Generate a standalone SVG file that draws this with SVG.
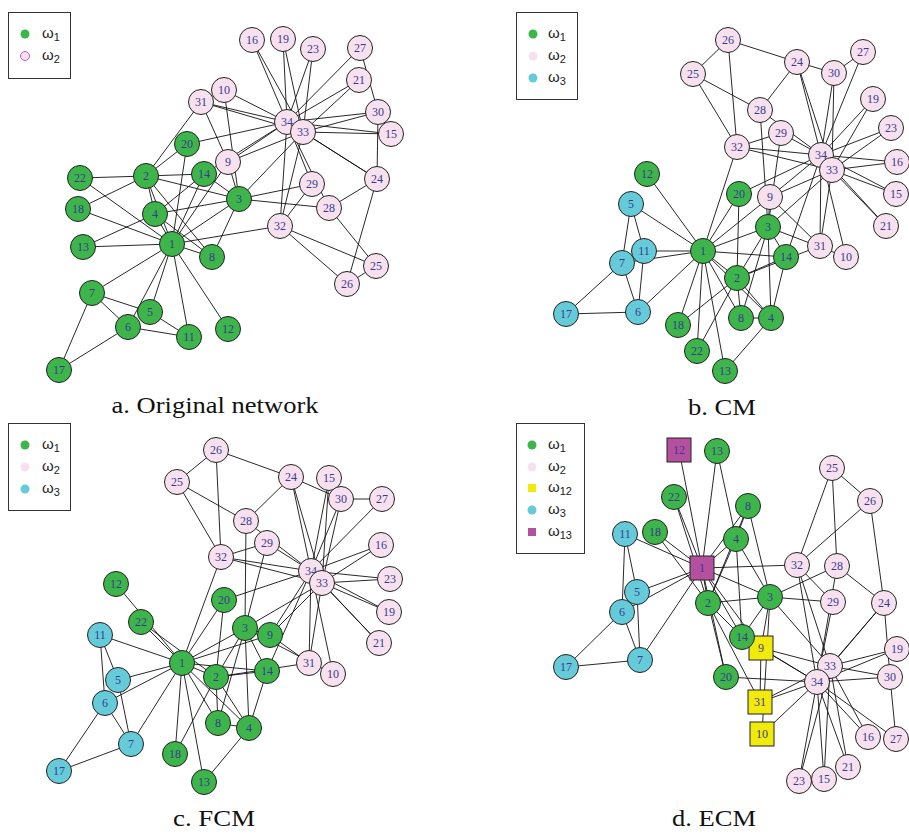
<svg xmlns="http://www.w3.org/2000/svg" width="909" height="834" viewBox="0 0 909 834">
<style>
.e line{stroke:#111;stroke-width:0.9}
circle.nd,rect.nd{stroke:#222;stroke-width:1}
.g{fill:#3db54a}.p{fill:#f7e1ee}.c{fill:#66cbd9}.y{fill:#f2ea0c}.m{fill:#b5509f}
.t{font-family:"Liberation Serif","Times New Roman",serif;font-size:12px;fill:#3a3a8f;text-anchor:middle}
.lg{font-family:"Liberation Sans",Arial,sans-serif;font-size:15px;fill:#222}
.lb{fill:#fff;stroke:#333;stroke-width:1}
.cap{font-family:"Liberation Serif","Times New Roman",serif;font-size:23px;fill:#111;text-anchor:middle}
</style>
<rect width="909" height="834" fill="#fff"/>

<!-- Panel a -->
<g id="a-edges" class="e">
<line x1="172" y1="244" x2="146" y2="176"/><line x1="172" y1="244" x2="239" y2="199"/><line x1="172" y1="244" x2="155" y2="214"/><line x1="172" y1="244" x2="150" y2="312"/><line x1="172" y1="244" x2="128" y2="327"/><line x1="172" y1="244" x2="92" y2="293"/><line x1="172" y1="244" x2="212" y2="257"/><line x1="172" y1="244" x2="228" y2="162"/><line x1="172" y1="244" x2="189" y2="337"/><line x1="172" y1="244" x2="228" y2="329"/><line x1="172" y1="244" x2="83" y2="247"/><line x1="172" y1="244" x2="204" y2="174"/><line x1="172" y1="244" x2="78" y2="209"/><line x1="172" y1="244" x2="187" y2="144"/><line x1="172" y1="244" x2="80" y2="178"/><line x1="172" y1="244" x2="280" y2="226"/>
<line x1="146" y1="176" x2="239" y2="199"/><line x1="146" y1="176" x2="155" y2="214"/><line x1="146" y1="176" x2="212" y2="257"/><line x1="146" y1="176" x2="204" y2="174"/><line x1="146" y1="176" x2="78" y2="209"/><line x1="146" y1="176" x2="187" y2="144"/><line x1="146" y1="176" x2="80" y2="178"/><line x1="146" y1="176" x2="201" y2="102"/>
<line x1="239" y1="199" x2="155" y2="214"/><line x1="239" y1="199" x2="212" y2="257"/><line x1="239" y1="199" x2="228" y2="162"/><line x1="239" y1="199" x2="224" y2="90"/><line x1="239" y1="199" x2="204" y2="174"/><line x1="239" y1="199" x2="329" y2="208"/><line x1="239" y1="199" x2="312" y2="184"/><line x1="239" y1="199" x2="303" y2="132"/>
<line x1="155" y1="214" x2="212" y2="257"/><line x1="155" y1="214" x2="83" y2="247"/><line x1="155" y1="214" x2="204" y2="174"/>
<line x1="150" y1="312" x2="92" y2="293"/><line x1="150" y1="312" x2="189" y2="337"/>
<line x1="128" y1="327" x2="92" y2="293"/><line x1="128" y1="327" x2="189" y2="337"/><line x1="128" y1="327" x2="59" y2="370"/>
<line x1="92" y1="293" x2="59" y2="370"/>
<line x1="228" y1="162" x2="201" y2="102"/><line x1="228" y1="162" x2="303" y2="132"/><line x1="228" y1="162" x2="287" y2="122"/>
<line x1="224" y1="90" x2="287" y2="122"/><line x1="204" y1="174" x2="287" y2="122"/>
<line x1="391" y1="134" x2="303" y2="132"/><line x1="391" y1="134" x2="287" y2="122"/>
<line x1="252" y1="40" x2="303" y2="132"/><line x1="252" y1="40" x2="287" y2="122"/>
<line x1="283" y1="39" x2="303" y2="132"/><line x1="283" y1="39" x2="287" y2="122"/>
<line x1="187" y1="144" x2="287" y2="122"/>
<line x1="359" y1="80" x2="303" y2="132"/><line x1="359" y1="80" x2="287" y2="122"/>
<line x1="313" y1="49" x2="303" y2="132"/><line x1="313" y1="49" x2="287" y2="122"/>
<line x1="377" y1="179" x2="347" y2="284"/><line x1="377" y1="179" x2="329" y2="208"/><line x1="377" y1="179" x2="378" y2="112"/><line x1="377" y1="179" x2="303" y2="132"/><line x1="377" y1="179" x2="287" y2="122"/>
<line x1="376" y1="266" x2="347" y2="284"/><line x1="376" y1="266" x2="329" y2="208"/><line x1="376" y1="266" x2="280" y2="226"/>
<line x1="347" y1="284" x2="280" y2="226"/>
<line x1="360" y1="48" x2="378" y2="112"/><line x1="360" y1="48" x2="287" y2="122"/>
<line x1="329" y1="208" x2="287" y2="122"/>
<line x1="312" y1="184" x2="280" y2="226"/><line x1="312" y1="184" x2="287" y2="122"/>
<line x1="378" y1="112" x2="303" y2="132"/><line x1="378" y1="112" x2="287" y2="122"/>
<line x1="201" y1="102" x2="303" y2="132"/><line x1="201" y1="102" x2="287" y2="122"/>
<line x1="280" y1="226" x2="303" y2="132"/><line x1="280" y1="226" x2="287" y2="122"/>
<line x1="303" y1="132" x2="287" y2="122"/>
</g>
<g id="a-nodes">
<g id="a-n1"><circle class="nd g" cx="172" cy="244" r="12.5"/><text class="t" x="172" y="248">1</text></g>
<g id="a-n2"><circle class="nd g" cx="146" cy="176" r="12.5"/><text class="t" x="146" y="180">2</text></g>
<g id="a-n3"><circle class="nd g" cx="239" cy="199" r="12.5"/><text class="t" x="239" y="203">3</text></g>
<g id="a-n4"><circle class="nd g" cx="155" cy="214" r="12.5"/><text class="t" x="155" y="218">4</text></g>
<g id="a-n5"><circle class="nd g" cx="150" cy="312" r="12.5"/><text class="t" x="150" y="316">5</text></g>
<g id="a-n6"><circle class="nd g" cx="128" cy="327" r="12.5"/><text class="t" x="128" y="331">6</text></g>
<g id="a-n7"><circle class="nd g" cx="92" cy="293" r="12.5"/><text class="t" x="92" y="297">7</text></g>
<g id="a-n8"><circle class="nd g" cx="212" cy="257" r="12.5"/><text class="t" x="212" y="261">8</text></g>
<g id="a-n9"><circle class="nd p" cx="228" cy="162" r="12.5"/><text class="t" x="228" y="166">9</text></g>
<g id="a-n10"><circle class="nd p" cx="224" cy="90" r="12.5"/><text class="t" x="224" y="94">10</text></g>
<g id="a-n11"><circle class="nd g" cx="189" cy="337" r="12.5"/><text class="t" x="189" y="341">11</text></g>
<g id="a-n12"><circle class="nd g" cx="228" cy="329" r="12.5"/><text class="t" x="228" y="333">12</text></g>
<g id="a-n13"><circle class="nd g" cx="83" cy="247" r="12.5"/><text class="t" x="83" y="251">13</text></g>
<g id="a-n14"><circle class="nd g" cx="204" cy="174" r="12.5"/><text class="t" x="204" y="178">14</text></g>
<g id="a-n15"><circle class="nd p" cx="391" cy="134" r="12.5"/><text class="t" x="391" y="138">15</text></g>
<g id="a-n16"><circle class="nd p" cx="252" cy="40" r="12.5"/><text class="t" x="252" y="44">16</text></g>
<g id="a-n17"><circle class="nd g" cx="59" cy="370" r="12.5"/><text class="t" x="59" y="374">17</text></g>
<g id="a-n18"><circle class="nd g" cx="78" cy="209" r="12.5"/><text class="t" x="78" y="213">18</text></g>
<g id="a-n19"><circle class="nd p" cx="283" cy="39" r="12.5"/><text class="t" x="283" y="43">19</text></g>
<g id="a-n20"><circle class="nd g" cx="187" cy="144" r="12.5"/><text class="t" x="187" y="148">20</text></g>
<g id="a-n21"><circle class="nd p" cx="359" cy="80" r="12.5"/><text class="t" x="359" y="84">21</text></g>
<g id="a-n22"><circle class="nd g" cx="80" cy="178" r="12.5"/><text class="t" x="80" y="182">22</text></g>
<g id="a-n23"><circle class="nd p" cx="313" cy="49" r="12.5"/><text class="t" x="313" y="53">23</text></g>
<g id="a-n24"><circle class="nd p" cx="377" cy="179" r="12.5"/><text class="t" x="377" y="183">24</text></g>
<g id="a-n25"><circle class="nd p" cx="376" cy="266" r="12.5"/><text class="t" x="376" y="270">25</text></g>
<g id="a-n26"><circle class="nd p" cx="347" cy="284" r="12.5"/><text class="t" x="347" y="288">26</text></g>
<g id="a-n27"><circle class="nd p" cx="360" cy="48" r="12.5"/><text class="t" x="360" y="52">27</text></g>
<g id="a-n28"><circle class="nd p" cx="329" cy="208" r="12.5"/><text class="t" x="329" y="212">28</text></g>
<g id="a-n29"><circle class="nd p" cx="312" cy="184" r="12.5"/><text class="t" x="312" y="188">29</text></g>
<g id="a-n30"><circle class="nd p" cx="378" cy="112" r="12.5"/><text class="t" x="378" y="116">30</text></g>
<g id="a-n31"><circle class="nd p" cx="201" cy="102" r="12.5"/><text class="t" x="201" y="106">31</text></g>
<g id="a-n32"><circle class="nd p" cx="280" cy="226" r="12.5"/><text class="t" x="280" y="230">32</text></g>
<g id="a-n34"><circle class="nd p" cx="287" cy="122" r="12.5"/><text class="t" x="287" y="126">34</text></g>
<g id="a-n33"><circle class="nd p" cx="303" cy="132" r="12.5"/><text class="t" x="303" y="136">33</text></g>
</g>
<g id="a-legend">
<rect class="lb" x="8.5" y="12.5" width="62" height="66"/>
<circle cx="25" cy="34" r="4.5" class="g"/>
<circle cx="25" cy="56" r="4.5" fill="#f7e1ee" stroke="#c45fae" stroke-width="1"/>
<text class="lg" x="42" y="38">ω<tspan font-size="11" dy="3">1</tspan></text>
<text class="lg" x="42" y="60">ω<tspan font-size="11" dy="3">2</tspan></text>
</g>
<text class="cap" x="215" y="413" textLength="207" lengthAdjust="spacingAndGlyphs">a. Original network</text>

<!-- Panel b -->
<g id="b-edges" class="e">
<line x1="703" y1="251" x2="737" y2="278"/><line x1="703" y1="251" x2="768" y2="227"/><line x1="703" y1="251" x2="771" y2="318"/><line x1="703" y1="251" x2="631" y2="204"/><line x1="703" y1="251" x2="638" y2="312"/><line x1="703" y1="251" x2="622" y2="263"/><line x1="703" y1="251" x2="741" y2="318"/><line x1="703" y1="251" x2="770" y2="197"/><line x1="703" y1="251" x2="644" y2="251"/><line x1="703" y1="251" x2="647" y2="174"/><line x1="703" y1="251" x2="725" y2="371"/><line x1="703" y1="251" x2="786" y2="257"/><line x1="703" y1="251" x2="678" y2="325"/><line x1="703" y1="251" x2="739" y2="194"/><line x1="703" y1="251" x2="697" y2="351"/><line x1="703" y1="251" x2="737" y2="147"/>
<line x1="737" y1="278" x2="768" y2="227"/><line x1="737" y1="278" x2="771" y2="318"/><line x1="737" y1="278" x2="741" y2="318"/><line x1="737" y1="278" x2="786" y2="257"/><line x1="737" y1="278" x2="678" y2="325"/><line x1="737" y1="278" x2="739" y2="194"/><line x1="737" y1="278" x2="697" y2="351"/><line x1="737" y1="278" x2="820" y2="246"/>
<line x1="768" y1="227" x2="771" y2="318"/><line x1="768" y1="227" x2="741" y2="318"/><line x1="768" y1="227" x2="770" y2="197"/><line x1="768" y1="227" x2="846" y2="257"/><line x1="768" y1="227" x2="786" y2="257"/><line x1="768" y1="227" x2="760" y2="110"/><line x1="768" y1="227" x2="781" y2="133"/><line x1="768" y1="227" x2="832" y2="170"/>
<line x1="771" y1="318" x2="741" y2="318"/><line x1="771" y1="318" x2="725" y2="371"/><line x1="771" y1="318" x2="786" y2="257"/>
<line x1="631" y1="204" x2="622" y2="263"/><line x1="631" y1="204" x2="644" y2="251"/>
<line x1="638" y1="312" x2="622" y2="263"/><line x1="638" y1="312" x2="644" y2="251"/><line x1="638" y1="312" x2="566" y2="314"/>
<line x1="622" y1="263" x2="566" y2="314"/>
<line x1="770" y1="197" x2="820" y2="246"/><line x1="770" y1="197" x2="832" y2="170"/><line x1="770" y1="197" x2="821" y2="155"/>
<line x1="846" y1="257" x2="821" y2="155"/><line x1="786" y1="257" x2="821" y2="155"/>
<line x1="896" y1="194" x2="832" y2="170"/><line x1="896" y1="194" x2="821" y2="155"/>
<line x1="897" y1="162" x2="832" y2="170"/><line x1="897" y1="162" x2="821" y2="155"/>
<line x1="873" y1="99" x2="832" y2="170"/><line x1="873" y1="99" x2="821" y2="155"/>
<line x1="739" y1="194" x2="821" y2="155"/>
<line x1="886" y1="226" x2="832" y2="170"/><line x1="886" y1="226" x2="821" y2="155"/>
<line x1="891" y1="128" x2="832" y2="170"/><line x1="891" y1="128" x2="821" y2="155"/>
<line x1="797" y1="62" x2="728" y2="40"/><line x1="797" y1="62" x2="760" y2="110"/><line x1="797" y1="62" x2="834" y2="73"/><line x1="797" y1="62" x2="832" y2="170"/><line x1="797" y1="62" x2="821" y2="155"/>
<line x1="693" y1="74" x2="728" y2="40"/><line x1="693" y1="74" x2="760" y2="110"/><line x1="693" y1="74" x2="737" y2="147"/>
<line x1="728" y1="40" x2="737" y2="147"/>
<line x1="863" y1="52" x2="834" y2="73"/><line x1="863" y1="52" x2="821" y2="155"/>
<line x1="760" y1="110" x2="821" y2="155"/>
<line x1="781" y1="133" x2="737" y2="147"/><line x1="781" y1="133" x2="821" y2="155"/>
<line x1="834" y1="73" x2="832" y2="170"/><line x1="834" y1="73" x2="821" y2="155"/>
<line x1="820" y1="246" x2="832" y2="170"/><line x1="820" y1="246" x2="821" y2="155"/>
<line x1="737" y1="147" x2="832" y2="170"/><line x1="737" y1="147" x2="821" y2="155"/>
<line x1="832" y1="170" x2="821" y2="155"/>
</g>
<g id="b-nodes">
<g id="b-n1"><circle class="nd g" cx="703" cy="251" r="12.5"/><text class="t" x="703" y="255">1</text></g>
<g id="b-n2"><circle class="nd g" cx="737" cy="278" r="12.5"/><text class="t" x="737" y="282">2</text></g>
<g id="b-n3"><circle class="nd g" cx="768" cy="227" r="12.5"/><text class="t" x="768" y="231">3</text></g>
<g id="b-n4"><circle class="nd g" cx="771" cy="318" r="12.5"/><text class="t" x="771" y="322">4</text></g>
<g id="b-n5"><circle class="nd c" cx="631" cy="204" r="12.5"/><text class="t" x="631" y="208">5</text></g>
<g id="b-n6"><circle class="nd c" cx="638" cy="312" r="12.5"/><text class="t" x="638" y="316">6</text></g>
<g id="b-n7"><circle class="nd c" cx="622" cy="263" r="12.5"/><text class="t" x="622" y="267">7</text></g>
<g id="b-n8"><circle class="nd g" cx="741" cy="318" r="12.5"/><text class="t" x="741" y="322">8</text></g>
<g id="b-n9"><circle class="nd p" cx="770" cy="197" r="12.5"/><text class="t" x="770" y="201">9</text></g>
<g id="b-n10"><circle class="nd p" cx="846" cy="257" r="12.5"/><text class="t" x="846" y="261">10</text></g>
<g id="b-n11"><circle class="nd c" cx="644" cy="251" r="12.5"/><text class="t" x="644" y="255">11</text></g>
<g id="b-n12"><circle class="nd g" cx="647" cy="174" r="12.5"/><text class="t" x="647" y="178">12</text></g>
<g id="b-n13"><circle class="nd g" cx="725" cy="371" r="12.5"/><text class="t" x="725" y="375">13</text></g>
<g id="b-n14"><circle class="nd g" cx="786" cy="257" r="12.5"/><text class="t" x="786" y="261">14</text></g>
<g id="b-n15"><circle class="nd p" cx="896" cy="194" r="12.5"/><text class="t" x="896" y="198">15</text></g>
<g id="b-n16"><circle class="nd p" cx="897" cy="162" r="12.5"/><text class="t" x="897" y="166">16</text></g>
<g id="b-n17"><circle class="nd c" cx="566" cy="314" r="12.5"/><text class="t" x="566" y="318">17</text></g>
<g id="b-n18"><circle class="nd g" cx="678" cy="325" r="12.5"/><text class="t" x="678" y="329">18</text></g>
<g id="b-n19"><circle class="nd p" cx="873" cy="99" r="12.5"/><text class="t" x="873" y="103">19</text></g>
<g id="b-n20"><circle class="nd g" cx="739" cy="194" r="12.5"/><text class="t" x="739" y="198">20</text></g>
<g id="b-n21"><circle class="nd p" cx="886" cy="226" r="12.5"/><text class="t" x="886" y="230">21</text></g>
<g id="b-n22"><circle class="nd g" cx="697" cy="351" r="12.5"/><text class="t" x="697" y="355">22</text></g>
<g id="b-n23"><circle class="nd p" cx="891" cy="128" r="12.5"/><text class="t" x="891" y="132">23</text></g>
<g id="b-n24"><circle class="nd p" cx="797" cy="62" r="12.5"/><text class="t" x="797" y="66">24</text></g>
<g id="b-n25"><circle class="nd p" cx="693" cy="74" r="12.5"/><text class="t" x="693" y="78">25</text></g>
<g id="b-n26"><circle class="nd p" cx="728" cy="40" r="12.5"/><text class="t" x="728" y="44">26</text></g>
<g id="b-n27"><circle class="nd p" cx="863" cy="52" r="12.5"/><text class="t" x="863" y="56">27</text></g>
<g id="b-n28"><circle class="nd p" cx="760" cy="110" r="12.5"/><text class="t" x="760" y="114">28</text></g>
<g id="b-n29"><circle class="nd p" cx="781" cy="133" r="12.5"/><text class="t" x="781" y="137">29</text></g>
<g id="b-n30"><circle class="nd p" cx="834" cy="73" r="12.5"/><text class="t" x="834" y="77">30</text></g>
<g id="b-n31"><circle class="nd p" cx="820" cy="246" r="12.5"/><text class="t" x="820" y="250">31</text></g>
<g id="b-n32"><circle class="nd p" cx="737" cy="147" r="12.5"/><text class="t" x="737" y="151">32</text></g>
<g id="b-n34"><circle class="nd p" cx="821" cy="155" r="12.5"/><text class="t" x="821" y="159">34</text></g>
<g id="b-n33"><circle class="nd p" cx="832" cy="170" r="12.5"/><text class="t" x="832" y="174">33</text></g>
</g>
<g id="b-legend">
<rect class="lb" x="516.5" y="12.5" width="61" height="87"/>
<circle cx="533" cy="34" r="4.5" class="g"/>
<circle cx="533" cy="56" r="4.5" class="p"/>
<circle cx="533" cy="78" r="4.5" class="c"/>
<text class="lg" x="548" y="38">ω<tspan font-size="11" dy="3">1</tspan></text>
<text class="lg" x="548" y="60">ω<tspan font-size="11" dy="3">2</tspan></text>
<text class="lg" x="548" y="82">ω<tspan font-size="11" dy="3">3</tspan></text>
</g>
<text class="cap" x="722" y="415" textLength="68" lengthAdjust="spacingAndGlyphs">b. CM</text>

<!-- Panel c -->
<g id="c-edges" class="e">
<line x1="182" y1="663" x2="216" y2="677"/><line x1="182" y1="663" x2="245" y2="628"/><line x1="182" y1="663" x2="249" y2="728"/><line x1="182" y1="663" x2="118" y2="680"/><line x1="182" y1="663" x2="105" y2="703"/><line x1="182" y1="663" x2="131" y2="744"/><line x1="182" y1="663" x2="218" y2="723"/><line x1="182" y1="663" x2="270" y2="635"/><line x1="182" y1="663" x2="100" y2="635"/><line x1="182" y1="663" x2="116" y2="584"/><line x1="182" y1="663" x2="204" y2="782"/><line x1="182" y1="663" x2="267" y2="671"/><line x1="182" y1="663" x2="175" y2="754"/><line x1="182" y1="663" x2="224" y2="600"/><line x1="182" y1="663" x2="141" y2="622"/><line x1="182" y1="663" x2="221" y2="557"/>
<line x1="216" y1="677" x2="245" y2="628"/><line x1="216" y1="677" x2="249" y2="728"/><line x1="216" y1="677" x2="218" y2="723"/><line x1="216" y1="677" x2="267" y2="671"/><line x1="216" y1="677" x2="175" y2="754"/><line x1="216" y1="677" x2="224" y2="600"/><line x1="216" y1="677" x2="141" y2="622"/><line x1="216" y1="677" x2="309" y2="663"/>
<line x1="245" y1="628" x2="249" y2="728"/><line x1="245" y1="628" x2="218" y2="723"/><line x1="245" y1="628" x2="270" y2="635"/><line x1="245" y1="628" x2="333" y2="674"/><line x1="245" y1="628" x2="267" y2="671"/><line x1="245" y1="628" x2="246" y2="521"/><line x1="245" y1="628" x2="267" y2="543"/><line x1="245" y1="628" x2="322" y2="583"/>
<line x1="249" y1="728" x2="218" y2="723"/><line x1="249" y1="728" x2="204" y2="782"/><line x1="249" y1="728" x2="267" y2="671"/>
<line x1="118" y1="680" x2="131" y2="744"/><line x1="118" y1="680" x2="100" y2="635"/>
<line x1="105" y1="703" x2="131" y2="744"/><line x1="105" y1="703" x2="100" y2="635"/><line x1="105" y1="703" x2="59" y2="771"/>
<line x1="131" y1="744" x2="59" y2="771"/>
<line x1="270" y1="635" x2="309" y2="663"/><line x1="270" y1="635" x2="322" y2="583"/><line x1="270" y1="635" x2="311" y2="571"/>
<line x1="333" y1="674" x2="311" y2="571"/><line x1="267" y1="671" x2="311" y2="571"/>
<line x1="329" y1="478" x2="322" y2="583"/><line x1="329" y1="478" x2="311" y2="571"/>
<line x1="381" y1="545" x2="322" y2="583"/><line x1="381" y1="545" x2="311" y2="571"/>
<line x1="389" y1="612" x2="322" y2="583"/><line x1="389" y1="612" x2="311" y2="571"/>
<line x1="224" y1="600" x2="311" y2="571"/>
<line x1="379" y1="643" x2="322" y2="583"/><line x1="379" y1="643" x2="311" y2="571"/>
<line x1="390" y1="579" x2="322" y2="583"/><line x1="390" y1="579" x2="311" y2="571"/>
<line x1="291" y1="477" x2="216" y2="450"/><line x1="291" y1="477" x2="246" y2="521"/><line x1="291" y1="477" x2="341" y2="499"/><line x1="291" y1="477" x2="322" y2="583"/><line x1="291" y1="477" x2="311" y2="571"/>
<line x1="177" y1="482" x2="216" y2="450"/><line x1="177" y1="482" x2="246" y2="521"/><line x1="177" y1="482" x2="221" y2="557"/>
<line x1="216" y1="450" x2="221" y2="557"/>
<line x1="382" y1="499" x2="341" y2="499" stroke-width="2"/><line x1="382" y1="499" x2="311" y2="571"/>
<line x1="246" y1="521" x2="311" y2="571"/>
<line x1="267" y1="543" x2="221" y2="557"/><line x1="267" y1="543" x2="311" y2="571"/>
<line x1="341" y1="499" x2="322" y2="583"/><line x1="341" y1="499" x2="311" y2="571"/>
<line x1="309" y1="663" x2="322" y2="583"/><line x1="309" y1="663" x2="311" y2="571"/>
<line x1="221" y1="557" x2="322" y2="583"/><line x1="221" y1="557" x2="311" y2="571"/>
<line x1="322" y1="583" x2="311" y2="571"/>
</g>
<g id="c-nodes">
<g id="c-n1"><circle class="nd g" cx="182" cy="663" r="12.5"/><text class="t" x="182" y="667">1</text></g>
<g id="c-n2"><circle class="nd g" cx="216" cy="677" r="12.5"/><text class="t" x="216" y="681">2</text></g>
<g id="c-n3"><circle class="nd g" cx="245" cy="628" r="12.5"/><text class="t" x="245" y="632">3</text></g>
<g id="c-n4"><circle class="nd g" cx="249" cy="728" r="12.5"/><text class="t" x="249" y="732">4</text></g>
<g id="c-n5"><circle class="nd c" cx="118" cy="680" r="12.5"/><text class="t" x="118" y="684">5</text></g>
<g id="c-n6"><circle class="nd c" cx="105" cy="703" r="12.5"/><text class="t" x="105" y="707">6</text></g>
<g id="c-n7"><circle class="nd c" cx="131" cy="744" r="12.5"/><text class="t" x="131" y="748">7</text></g>
<g id="c-n8"><circle class="nd g" cx="218" cy="723" r="12.5"/><text class="t" x="218" y="727">8</text></g>
<g id="c-n9"><circle class="nd g" cx="270" cy="635" r="12.5"/><text class="t" x="270" y="639">9</text></g>
<g id="c-n10"><circle class="nd p" cx="333" cy="674" r="12.5"/><text class="t" x="333" y="678">10</text></g>
<g id="c-n11"><circle class="nd c" cx="100" cy="635" r="12.5"/><text class="t" x="100" y="639">11</text></g>
<g id="c-n12"><circle class="nd g" cx="116" cy="584" r="12.5"/><text class="t" x="116" y="588">12</text></g>
<g id="c-n13"><circle class="nd g" cx="204" cy="782" r="12.5"/><text class="t" x="204" y="786">13</text></g>
<g id="c-n14"><circle class="nd g" cx="267" cy="671" r="12.5"/><text class="t" x="267" y="675">14</text></g>
<g id="c-n15"><circle class="nd p" cx="329" cy="478" r="12.5"/><text class="t" x="329" y="482">15</text></g>
<g id="c-n16"><circle class="nd p" cx="381" cy="545" r="12.5"/><text class="t" x="381" y="549">16</text></g>
<g id="c-n17"><circle class="nd c" cx="59" cy="771" r="12.5"/><text class="t" x="59" y="775">17</text></g>
<g id="c-n18"><circle class="nd g" cx="175" cy="754" r="12.5"/><text class="t" x="175" y="758">18</text></g>
<g id="c-n19"><circle class="nd p" cx="389" cy="612" r="12.5"/><text class="t" x="389" y="616">19</text></g>
<g id="c-n20"><circle class="nd g" cx="224" cy="600" r="12.5"/><text class="t" x="224" y="604">20</text></g>
<g id="c-n21"><circle class="nd p" cx="379" cy="643" r="12.5"/><text class="t" x="379" y="647">21</text></g>
<g id="c-n22"><circle class="nd g" cx="141" cy="622" r="12.5"/><text class="t" x="141" y="626">22</text></g>
<g id="c-n23"><circle class="nd p" cx="390" cy="579" r="12.5"/><text class="t" x="390" y="583">23</text></g>
<g id="c-n24"><circle class="nd p" cx="291" cy="477" r="12.5"/><text class="t" x="291" y="481">24</text></g>
<g id="c-n25"><circle class="nd p" cx="177" cy="482" r="12.5"/><text class="t" x="177" y="486">25</text></g>
<g id="c-n26"><circle class="nd p" cx="216" cy="450" r="12.5"/><text class="t" x="216" y="454">26</text></g>
<g id="c-n27"><circle class="nd p" cx="382" cy="499" r="12.5"/><text class="t" x="382" y="503">27</text></g>
<g id="c-n28"><circle class="nd p" cx="246" cy="521" r="12.5"/><text class="t" x="246" y="525">28</text></g>
<g id="c-n29"><circle class="nd p" cx="267" cy="543" r="12.5"/><text class="t" x="267" y="547">29</text></g>
<g id="c-n30"><circle class="nd p" cx="341" cy="499" r="12.5"/><text class="t" x="341" y="503">30</text></g>
<g id="c-n31"><circle class="nd p" cx="309" cy="663" r="12.5"/><text class="t" x="309" y="667">31</text></g>
<g id="c-n32"><circle class="nd p" cx="221" cy="557" r="12.5"/><text class="t" x="221" y="561">32</text></g>
<g id="c-n34"><circle class="nd p" cx="311" cy="571" r="12.5"/><text class="t" x="311" y="575">34</text></g>
<g id="c-n33"><circle class="nd p" cx="322" cy="583" r="12.5"/><text class="t" x="322" y="587">33</text></g>
</g>
<g id="c-legend">
<rect class="lb" x="8.5" y="423.5" width="62" height="87"/>
<circle cx="25" cy="445" r="4.5" class="g"/>
<circle cx="25" cy="467" r="4.5" class="p"/>
<circle cx="25" cy="489" r="4.5" class="c"/>
<text class="lg" x="42" y="449">ω<tspan font-size="11" dy="3">1</tspan></text>
<text class="lg" x="42" y="471">ω<tspan font-size="11" dy="3">2</tspan></text>
<text class="lg" x="42" y="493">ω<tspan font-size="11" dy="3">3</tspan></text>
</g>
<text class="cap" x="214" y="826" textLength="82" lengthAdjust="spacingAndGlyphs">c. FCM</text>

<!-- Panel d -->
<g id="d-edges" class="e">
<line x1="702" y1="568" x2="708" y2="603"/><line x1="702" y1="568" x2="770" y2="597"/><line x1="702" y1="568" x2="736" y2="539"/><line x1="702" y1="568" x2="637" y2="592"/><line x1="702" y1="568" x2="622" y2="612"/><line x1="702" y1="568" x2="640" y2="660"/><line x1="702" y1="568" x2="748" y2="506"/><line x1="702" y1="568" x2="761" y2="648"/><line x1="702" y1="568" x2="625" y2="534"/><line x1="702" y1="568" x2="679" y2="450"/><line x1="702" y1="568" x2="717" y2="451"/><line x1="702" y1="568" x2="742" y2="637"/><line x1="702" y1="568" x2="655" y2="532"/><line x1="702" y1="568" x2="726" y2="677"/><line x1="702" y1="568" x2="674" y2="497"/><line x1="702" y1="568" x2="797" y2="565"/>
<line x1="708" y1="603" x2="770" y2="597"/><line x1="708" y1="603" x2="736" y2="539"/><line x1="708" y1="603" x2="748" y2="506"/><line x1="708" y1="603" x2="742" y2="637"/><line x1="708" y1="603" x2="655" y2="532"/><line x1="708" y1="603" x2="726" y2="677"/><line x1="708" y1="603" x2="674" y2="497"/><line x1="708" y1="603" x2="760" y2="702"/>
<line x1="770" y1="597" x2="736" y2="539"/><line x1="770" y1="597" x2="748" y2="506"/><line x1="770" y1="597" x2="761" y2="648"/><line x1="770" y1="597" x2="762" y2="734"/><line x1="770" y1="597" x2="742" y2="637"/><line x1="770" y1="597" x2="837" y2="566"/><line x1="770" y1="597" x2="833" y2="602"/><line x1="770" y1="597" x2="830" y2="666"/>
<line x1="736" y1="539" x2="748" y2="506"/><line x1="736" y1="539" x2="717" y2="451"/><line x1="736" y1="539" x2="742" y2="637"/>
<line x1="637" y1="592" x2="640" y2="660"/><line x1="637" y1="592" x2="625" y2="534"/>
<line x1="622" y1="612" x2="640" y2="660"/><line x1="622" y1="612" x2="625" y2="534"/><line x1="622" y1="612" x2="566" y2="667"/>
<line x1="640" y1="660" x2="566" y2="667"/>
<line x1="761" y1="648" x2="760" y2="702"/><line x1="761" y1="648" x2="830" y2="666"/><line x1="761" y1="648" x2="817" y2="682"/>
<line x1="762" y1="734" x2="817" y2="682"/><line x1="742" y1="637" x2="817" y2="682"/>
<line x1="824" y1="779" x2="830" y2="666"/><line x1="824" y1="779" x2="817" y2="682"/>
<line x1="868" y1="737" x2="830" y2="666"/><line x1="868" y1="737" x2="817" y2="682"/>
<line x1="897" y1="649" x2="830" y2="666"/><line x1="897" y1="649" x2="817" y2="682"/>
<line x1="726" y1="677" x2="817" y2="682"/>
<line x1="848" y1="767" x2="830" y2="666"/><line x1="848" y1="767" x2="817" y2="682"/>
<line x1="799" y1="781" x2="830" y2="666"/><line x1="799" y1="781" x2="817" y2="682"/>
<line x1="884" y1="603" x2="870" y2="501"/><line x1="884" y1="603" x2="837" y2="566"/><line x1="884" y1="603" x2="890" y2="677"/><line x1="884" y1="603" x2="830" y2="666"/><line x1="884" y1="603" x2="817" y2="682"/>
<line x1="832" y1="468" x2="870" y2="501"/><line x1="832" y1="468" x2="837" y2="566"/><line x1="832" y1="468" x2="797" y2="565"/>
<line x1="870" y1="501" x2="797" y2="565"/>
<line x1="896" y1="739" x2="890" y2="677"/><line x1="896" y1="739" x2="817" y2="682"/>
<line x1="837" y1="566" x2="817" y2="682"/>
<line x1="833" y1="602" x2="797" y2="565"/><line x1="833" y1="602" x2="817" y2="682"/>
<line x1="890" y1="677" x2="830" y2="666"/><line x1="890" y1="677" x2="817" y2="682"/>
<line x1="760" y1="702" x2="830" y2="666"/><line x1="760" y1="702" x2="817" y2="682"/>
<line x1="797" y1="565" x2="830" y2="666"/><line x1="797" y1="565" x2="817" y2="682"/>
<line x1="830" y1="666" x2="817" y2="682"/>
</g>
<g id="d-nodes">
<g id="d-n1"><rect class="nd m" x="690" y="556" width="24" height="24"/><text class="t" x="702" y="572">1</text></g>
<g id="d-n2"><circle class="nd g" cx="708" cy="603" r="12.5"/><text class="t" x="708" y="607">2</text></g>
<g id="d-n3"><circle class="nd g" cx="770" cy="597" r="12.5"/><text class="t" x="770" y="601">3</text></g>
<g id="d-n4"><circle class="nd g" cx="736" cy="539" r="12.5"/><text class="t" x="736" y="543">4</text></g>
<g id="d-n5"><circle class="nd c" cx="637" cy="592" r="12.5"/><text class="t" x="637" y="596">5</text></g>
<g id="d-n6"><circle class="nd c" cx="622" cy="612" r="12.5"/><text class="t" x="622" y="616">6</text></g>
<g id="d-n7"><circle class="nd c" cx="640" cy="660" r="12.5"/><text class="t" x="640" y="664">7</text></g>
<g id="d-n8"><circle class="nd g" cx="748" cy="506" r="12.5"/><text class="t" x="748" y="510">8</text></g>
<g id="d-n9"><rect class="nd y" x="749" y="636" width="24" height="24"/><text class="t" x="761" y="652">9</text></g>
<g id="d-n10"><rect class="nd y" x="750" y="722" width="24" height="24"/><text class="t" x="762" y="738">10</text></g>
<g id="d-n11"><circle class="nd c" cx="625" cy="534" r="12.5"/><text class="t" x="625" y="538">11</text></g>
<g id="d-n12"><rect class="nd m" x="667" y="438" width="24" height="24"/><text class="t" x="679" y="454">12</text></g>
<g id="d-n13"><circle class="nd g" cx="717" cy="451" r="12.5"/><text class="t" x="717" y="455">13</text></g>
<g id="d-n14"><circle class="nd g" cx="742" cy="637" r="12.5"/><text class="t" x="742" y="641">14</text></g>
<g id="d-n15"><circle class="nd p" cx="824" cy="779" r="12.5"/><text class="t" x="824" y="783">15</text></g>
<g id="d-n16"><circle class="nd p" cx="868" cy="737" r="12.5"/><text class="t" x="868" y="741">16</text></g>
<g id="d-n17"><circle class="nd c" cx="566" cy="667" r="12.5"/><text class="t" x="566" y="671">17</text></g>
<g id="d-n18"><circle class="nd g" cx="655" cy="532" r="12.5"/><text class="t" x="655" y="536">18</text></g>
<g id="d-n19"><circle class="nd p" cx="897" cy="649" r="12.5"/><text class="t" x="897" y="653">19</text></g>
<g id="d-n20"><circle class="nd g" cx="726" cy="677" r="12.5"/><text class="t" x="726" y="681">20</text></g>
<g id="d-n21"><circle class="nd p" cx="848" cy="767" r="12.5"/><text class="t" x="848" y="771">21</text></g>
<g id="d-n22"><circle class="nd g" cx="674" cy="497" r="12.5"/><text class="t" x="674" y="501">22</text></g>
<g id="d-n23"><circle class="nd p" cx="799" cy="781" r="12.5"/><text class="t" x="799" y="785">23</text></g>
<g id="d-n24"><circle class="nd p" cx="884" cy="603" r="12.5"/><text class="t" x="884" y="607">24</text></g>
<g id="d-n25"><circle class="nd p" cx="832" cy="468" r="12.5"/><text class="t" x="832" y="472">25</text></g>
<g id="d-n26"><circle class="nd p" cx="870" cy="501" r="12.5"/><text class="t" x="870" y="505">26</text></g>
<g id="d-n27"><circle class="nd p" cx="896" cy="739" r="12.5"/><text class="t" x="896" y="743">27</text></g>
<g id="d-n28"><circle class="nd p" cx="837" cy="566" r="12.5"/><text class="t" x="837" y="570">28</text></g>
<g id="d-n29"><circle class="nd p" cx="833" cy="602" r="12.5"/><text class="t" x="833" y="606">29</text></g>
<g id="d-n30"><circle class="nd p" cx="890" cy="677" r="12.5"/><text class="t" x="890" y="681">30</text></g>
<g id="d-n31"><rect class="nd y" x="748" y="690" width="24" height="24"/><text class="t" x="760" y="706">31</text></g>
<g id="d-n32"><circle class="nd p" cx="797" cy="565" r="12.5"/><text class="t" x="797" y="569">32</text></g>
<g id="d-n33"><circle class="nd p" cx="830" cy="666" r="12.5"/><text class="t" x="830" y="670">33</text></g>
<g id="d-n34"><circle class="nd p" cx="817" cy="682" r="12.5"/><text class="t" x="817" y="686">34</text></g>
</g>
<g id="d-legend">
<rect class="lb" x="516.5" y="423.5" width="68" height="130"/>
<circle cx="532" cy="445" r="4.5" class="g"/>
<circle cx="532" cy="467" r="4.5" class="p"/>
<rect x="528" y="484" width="8" height="8" class="y"/>
<circle cx="532" cy="510" r="4.5" class="c"/>
<rect x="528" y="528" width="8" height="8" class="m"/>
<text class="lg" x="548" y="449">ω<tspan font-size="11" dy="3">1</tspan></text>
<text class="lg" x="548" y="471">ω<tspan font-size="11" dy="3">2</tspan></text>
<text class="lg" x="548" y="492">ω<tspan font-size="11" dy="3">12</tspan></text>
<text class="lg" x="548" y="514">ω<tspan font-size="11" dy="3">3</tspan></text>
<text class="lg" x="548" y="536">ω<tspan font-size="11" dy="3">13</tspan></text>
</g>
<text class="cap" x="714" y="826" textLength="84" lengthAdjust="spacingAndGlyphs">d. ECM</text>
</svg>
